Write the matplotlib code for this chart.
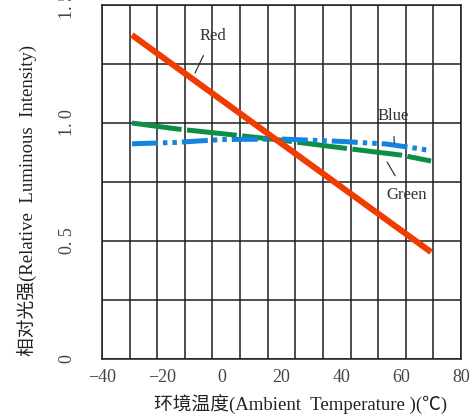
import numpy as np
import matplotlib.pyplot as plt

# data
red_x = [-30, 70]
red_y = [1.373, 0.453]

green_x = [-30, -15, 0, 20, 40, 60, 70]
green_y = [1.0, 0.975, 0.955, 0.927, 0.895, 0.864, 0.839]

blue_x = [-30, -15, 0, 20, 40, 55, 65, 70]
blue_y = [0.912, 0.918, 0.930, 0.932, 0.922, 0.911, 0.893, 0.883]

x_ticks = [-40, -20, 0, 20, 40, 60, 80]
x_labels = ['\u221240', '\u221220', '0', '20', '40', '60', '80']
y_ticks = [0, 0.5, 1.0, 1.5]
y_labels = ['0', '0. 5', '1. 0', '1. 5']

fonts = ['Liberation Serif', 'Noto Sans CJK SC', 'DejaVu Sans']
plt.rcParams['font.family'] = fonts

fig = plt.figure(figsize=(4.76, 4.19), dpi=100)
ax = fig.add_axes([0.2143, 0.1432, 0.7542, 0.8448])

ax.plot(red_x, red_y, color='#f03c00', lw=4.4, solid_capstyle='butt', zorder=4)
ax.plot(green_x, green_y, color='#0a8f45', lw=3.6, ls=(0, (10, 1.1)), zorder=3)
ax.plot(blue_x, blue_y, color='#1185e0', lw=3.6,
        ls=(0, (5.2, 1.0, 0.9, 1.0, 0.9, 1.0)), zorder=3)

ax.set_xlim(-40, 80)
ax.set_ylim(0, 1.5)

ax.set_xticks(x_ticks)
ax.set_xticklabels(x_labels, fontsize=13)
ax.set_yticks(y_ticks)
ax.set_yticklabels(y_labels, fontsize=13, rotation=90, va='center')
ax.tick_params(axis='x', length=0, pad=7, colors='#444444')
ax.tick_params(axis='y', length=0, pad=19, colors='#444444')

# grid: 13 columns, 6 rows
for v in np.linspace(-40, 80, 14):
    ax.axvline(v, color='#1e1e1e', lw=1.1, zorder=1)
for v in np.arange(0, 1.51, 0.25):
    ax.axhline(v, color='#1e1e1e', lw=1.1, zorder=1)
for s in ax.spines.values():
    s.set_color('#1e1e1e')
    s.set_linewidth(1.1)

arrow = dict(arrowstyle='-', color='#222222', lw=0.8, shrinkA=7, shrinkB=0)
ax.annotate('Red', xy=(-8.9, 1.212), xytext=(-3, 1.369), fontsize=12,
            ha='center', va='center', color='#333333', arrowprops=arrow)
ax.annotate('Blue', xy=(57.7, 0.915), xytext=(57.3, 1.03), fontsize=12,
            ha='center', va='center', color='#333333', arrowprops=arrow)
ax.annotate('Green', xy=(55.3, 0.835), xytext=(61.7, 0.695), fontsize=12,
            ha='center', va='center', color='#333333', arrowprops=arrow)

fig.text(301 / 476, 1 - 405 / 419, '环境温度(Ambient  Temperature )(\u2103)',
         fontsize=13.5, ha='center', va='center', color='#222222')
fig.text(27 / 476, 1 - 200 / 419, '相对光强(Relative  Luminous  Intensity)',
         fontsize=13.5, ha='center', va='center', rotation=90, color='#222222')

fig.savefig('out.png', dpi=100)
